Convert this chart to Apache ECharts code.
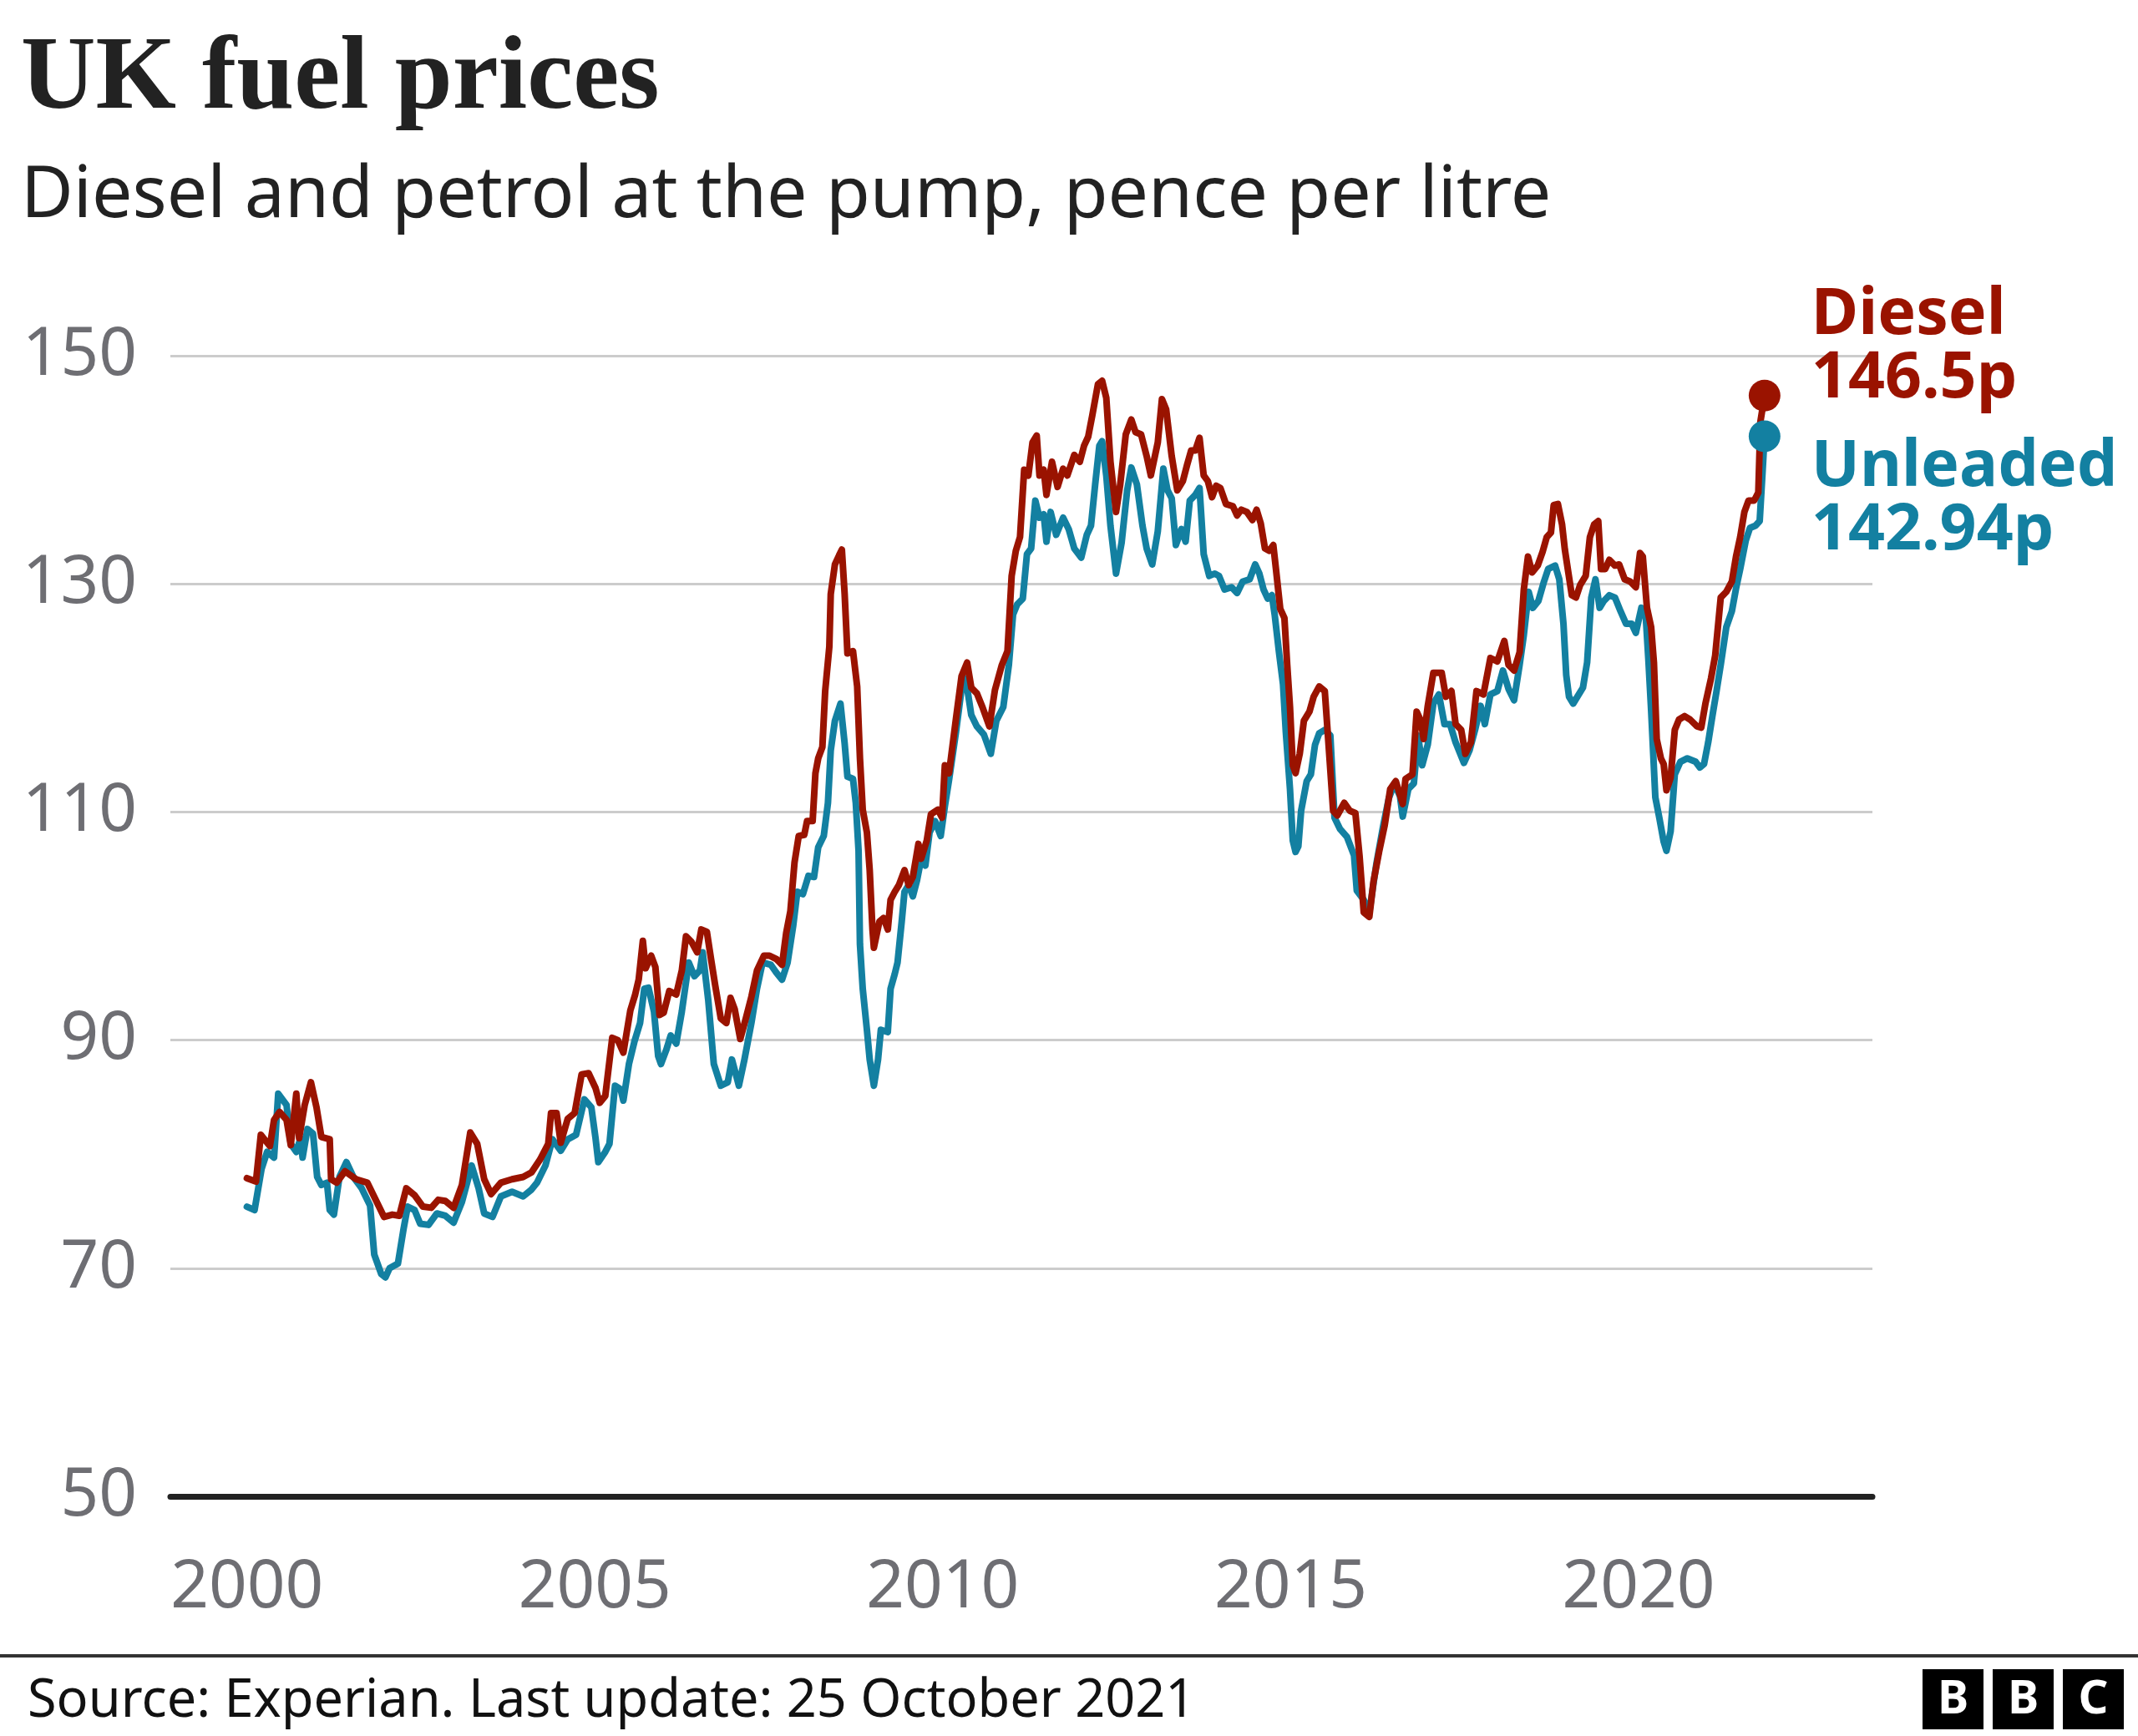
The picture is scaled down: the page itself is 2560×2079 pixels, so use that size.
<!DOCTYPE html>
<html>
<head>
<meta charset="utf-8">
<script src="https://cdn.jsdelivr.net/npm/echarts@6/dist/echarts.min.js"></script>
<style>
html,body{margin:0;padding:0;background:#fff;}
#chart{width:2560px;height:2079px;}
</style>
</head>
<body>
<div id="chart"></div>
<script>
// Decimal-year observation dates and prices (pence per litre)
const dieselDates = [2000.00,2000.13,2000.20,2000.33,2000.39,2000.47,2000.57,2000.63,2000.71,2000.75,2000.83,2000.92,2001.00,2001.07,2001.19,2001.21,2001.29,2001.41,2001.57,2001.73,2001.85,2001.97,2002.09,2002.19,2002.29,2002.41,2002.53,2002.65,2002.75,2002.85,2002.97,2003.09,2003.21,2003.31,2003.41,2003.51,2003.65,2003.81,2003.97,2004.09,2004.21,2004.33,2004.37,2004.45,2004.51,2004.61,2004.71,2004.81,2004.91,2005.01,2005.07,2005.15,2005.25,2005.33,2005.41,2005.51,2005.58,2005.63,2005.69,2005.73,2005.81,2005.87,2005.93,2005.99,2006.07,2006.17,2006.25,2006.31,2006.39,2006.47,2006.53,2006.61,2006.67,2006.73,2006.81,2006.89,2006.95,2007.01,2007.09,2007.17,2007.25,2007.33,2007.43,2007.51,2007.61,2007.69,2007.75,2007.81,2007.87,2007.93,2008.01,2008.05,2008.13,2008.17,2008.21,2008.27,2008.31,2008.37,2008.39,2008.45,2008.51,2008.55,2008.59,2008.63,2008.71,2008.77,2008.81,2008.85,2008.91,2008.95,2008.99,2009.01,2009.09,2009.15,2009.21,2009.25,2009.31,2009.37,2009.45,2009.51,2009.57,2009.65,2009.69,2009.77,2009.83,2009.93,2009.99,2010.03,2010.09,2010.19,2010.27,2010.35,2010.41,2010.49,2010.57,2010.67,2010.75,2010.85,2010.93,2010.99,2011.05,2011.11,2011.17,2011.23,2011.29,2011.35,2011.39,2011.45,2011.49,2011.57,2011.65,2011.73,2011.79,2011.89,2011.97,2012.03,2012.09,2012.15,2012.23,2012.29,2012.35,2012.41,2012.49,2012.55,2012.63,2012.71,2012.77,2012.85,2012.93,2012.99,2013.09,2013.15,2013.21,2013.29,2013.37,2013.45,2013.51,2013.57,2013.63,2013.69,2013.75,2013.81,2013.87,2013.93,2013.99,2014.07,2014.17,2014.23,2014.29,2014.37,2014.45,2014.51,2014.57,2014.63,2014.69,2014.75,2014.79,2014.85,2014.91,2014.95,2014.99,2015.03,2015.07,2015.13,2015.19,2015.27,2015.33,2015.41,2015.49,2015.55,2015.61,2015.67,2015.77,2015.85,2015.93,2015.99,2016.05,2016.13,2016.19,2016.27,2016.35,2016.43,2016.51,2016.61,2016.65,2016.75,2016.81,2016.87,2016.91,2016.97,2017.05,2017.17,2017.23,2017.31,2017.37,2017.45,2017.51,2017.59,2017.67,2017.77,2017.87,2017.97,2018.07,2018.13,2018.21,2018.29,2018.35,2018.41,2018.47,2018.55,2018.62,2018.68,2018.74,2018.78,2018.84,2018.90,2018.94,2018.99,2019.04,2019.10,2019.16,2019.24,2019.30,2019.36,2019.42,2019.46,2019.52,2019.58,2019.66,2019.72,2019.80,2019.88,2019.96,2020.02,2020.06,2020.12,2020.18,2020.22,2020.26,2020.32,2020.36,2020.40,2020.46,2020.52,2020.58,2020.66,2020.74,2020.84,2020.90,2020.96,2021.04,2021.10,2021.18,2021.26,2021.34,2021.40,2021.46,2021.52,2021.58,2021.66,2021.72,2021.75,2021.81];
const dieselValues = [77.9,77.6,81.7,80.7,83.0,83.7,83.0,80.8,85.3,81.4,84.3,86.3,84.1,81.5,81.3,77.8,77.5,78.5,77.8,77.5,76.0,74.5,74.7,74.6,77.0,76.4,75.4,75.3,76.0,75.9,75.3,77.3,81.9,80.9,77.8,76.5,77.5,77.8,78.0,78.4,79.5,80.9,83.6,83.6,81.0,83.1,83.6,87.0,87.1,85.8,84.5,85.1,90.2,90.0,88.9,92.6,94.0,95.3,98.7,96.3,97.4,96.4,92.2,92.4,94.3,94.0,96.1,99.1,98.6,97.7,99.7,99.5,97.1,94.8,91.9,91.5,93.7,92.7,90.1,91.9,93.8,96.1,97.4,97.4,97.1,96.6,99.4,101.3,105.6,107.9,108.0,109.2,109.2,113.4,114.7,115.7,120.6,124.5,129.1,131.7,132.5,133.0,129.1,123.9,124.1,121.0,114.7,110.2,108.2,104.9,99.7,98.1,100.4,100.7,99.7,102.3,103.0,103.6,104.9,103.6,104.3,107.2,105.9,107.5,109.8,110.2,109.5,114.1,113.4,118.2,121.9,123.1,120.9,120.4,119.2,117.5,120.7,122.9,124.1,130.7,132.9,134.1,140.0,139.5,142.4,143.0,139.5,140.0,137.8,140.7,138.5,140.1,139.5,141.3,140.7,142.1,142.9,144.8,147.5,147.8,146.3,140.7,136.3,138.7,143.1,144.4,143.3,143.1,141.2,139.5,142.4,146.2,145.3,141.2,138.2,139.0,140.4,141.7,141.7,142.8,139.5,139.0,137.6,138.6,138.4,137.0,136.8,136.0,136.5,136.3,135.6,136.5,135.3,133.1,132.9,133.4,131.2,127.8,127.0,122.9,119.2,114.1,113.4,115.1,118.0,118.8,120.1,121.0,120.6,115.4,110.1,109.7,110.8,110.1,109.9,106.1,101.2,100.8,103.9,106.5,108.8,112.0,112.7,110.7,112.9,113.3,118.8,118.0,116.4,119.3,122.2,122.2,120.1,120.6,117.7,117.2,115.1,116.1,120.6,120.3,123.5,123.2,125.0,122.9,122.4,124.0,129.5,132.4,131.0,131.6,132.8,134.1,134.5,136.9,137.0,135.2,133.0,131.0,129.0,128.8,129.9,130.7,134.1,135.2,135.5,131.3,131.3,132.1,131.6,131.7,130.4,130.2,129.7,132.7,132.4,127.9,126.2,123.1,116.4,114.7,114.2,111.9,113.0,117.2,118.1,118.4,118.1,117.5,117.4,119.5,121.7,123.7,128.8,129.3,130.2,132.4,134.1,136.3,137.3,137.3,138.0,144.2,146.5];

const unleadedDates = [2000.00,2000.11,2000.21,2000.29,2000.39,2000.45,2000.57,2000.63,2000.71,2000.77,2000.80,2000.87,2000.95,2001.01,2001.07,2001.15,2001.19,2001.25,2001.33,2001.43,2001.53,2001.65,2001.77,2001.83,2001.93,2001.99,2002.05,2002.17,2002.25,2002.31,2002.41,2002.49,2002.61,2002.73,2002.85,2002.97,2003.09,2003.23,2003.33,2003.41,2003.53,2003.65,2003.81,2003.97,2004.09,2004.17,2004.29,2004.39,2004.51,2004.61,2004.73,2004.85,2004.95,2005.01,2005.05,2005.15,2005.21,2005.29,2005.37,2005.41,2005.49,2005.57,2005.65,2005.71,2005.77,2005.85,2005.91,2005.95,2006.03,2006.09,2006.17,2006.25,2006.35,2006.43,2006.51,2006.55,2006.63,2006.71,2006.81,2006.91,2006.97,2007.07,2007.15,2007.25,2007.33,2007.41,2007.53,2007.61,2007.69,2007.77,2007.85,2007.91,2007.99,2008.07,2008.15,2008.21,2008.29,2008.35,2008.39,2008.45,2008.53,2008.59,2008.63,2008.71,2008.75,2008.79,2008.81,2008.85,2008.91,2008.95,2009.01,2009.07,2009.11,2009.21,2009.25,2009.31,2009.35,2009.41,2009.45,2009.51,2009.57,2009.63,2009.69,2009.75,2009.81,2009.89,2009.97,2010.03,2010.09,2010.19,2010.27,2010.33,2010.41,2010.49,2010.59,2010.69,2010.77,2010.87,2010.95,2011.01,2011.07,2011.15,2011.21,2011.27,2011.33,2011.39,2011.45,2011.49,2011.55,2011.63,2011.73,2011.81,2011.89,2011.99,2012.07,2012.13,2012.19,2012.25,2012.29,2012.35,2012.41,2012.49,2012.57,2012.65,2012.71,2012.79,2012.87,2012.93,2013.01,2013.09,2013.17,2013.23,2013.29,2013.35,2013.43,2013.49,2013.55,2013.63,2013.69,2013.75,2013.83,2013.91,2013.97,2014.05,2014.15,2014.23,2014.31,2014.41,2014.49,2014.55,2014.61,2014.67,2014.73,2014.77,2014.83,2014.89,2014.93,2014.99,2015.03,2015.07,2015.11,2015.15,2015.23,2015.29,2015.35,2015.41,2015.49,2015.57,2015.63,2015.71,2015.81,2015.91,2015.95,2016.05,2016.13,2016.23,2016.33,2016.41,2016.49,2016.57,2016.61,2016.69,2016.77,2016.83,2016.89,2016.97,2017.05,2017.13,2017.21,2017.29,2017.37,2017.49,2017.57,2017.65,2017.73,2017.79,2017.87,2017.97,2018.05,2018.13,2018.21,2018.29,2018.35,2018.42,2018.48,2018.56,2018.64,2018.70,2018.80,2018.86,2018.92,2018.96,2019.00,2019.06,2019.12,2019.20,2019.26,2019.32,2019.38,2019.44,2019.50,2019.58,2019.66,2019.74,2019.82,2019.90,2019.96,2020.04,2020.10,2020.14,2020.18,2020.24,2020.30,2020.36,2020.40,2020.46,2020.52,2020.60,2020.70,2020.82,2020.88,2020.94,2021.00,2021.06,2021.12,2021.18,2021.26,2021.34,2021.40,2021.46,2021.54,2021.60,2021.68,2021.74,2021.78,2021.81];
const unleadedValues = [75.4,75.1,78.7,80.2,79.7,85.3,84.3,80.9,80.2,81.4,79.7,82.2,81.8,78.0,77.3,77.5,75.1,74.7,78.0,79.3,78.0,77.0,75.5,71.2,69.5,69.2,70.0,70.4,73.4,75.4,75.1,73.9,73.8,74.8,74.6,74.0,75.8,79.0,77.0,74.8,74.5,76.3,76.7,76.3,76.9,77.5,79.0,81.3,80.3,81.3,81.7,84.8,84.1,81.4,79.3,80.2,80.9,86.0,85.7,84.7,87.9,89.9,91.5,94.5,94.6,92.5,88.6,87.9,89.2,90.4,89.7,92.5,96.8,95.6,96.1,97.7,93.5,87.9,86.0,86.3,88.3,86.0,88.3,91.5,94.5,96.8,96.6,95.9,95.3,96.8,100.0,103.0,102.8,104.4,104.3,106.9,107.9,110.8,115.4,118.0,119.5,116.0,113.1,112.9,110.8,106.6,98.4,94.5,90.9,88.3,86.0,88.3,90.9,90.7,94.5,95.8,96.8,100.4,103.0,103.6,102.6,104.0,105.9,105.3,108.2,109.2,107.9,110.5,112.8,117.0,120.8,121.7,118.5,117.5,116.8,115.1,118.0,119.2,122.9,127.3,128.2,128.7,132.6,133.1,137.3,135.8,136.1,133.7,136.3,134.3,135.8,134.8,133.1,132.3,134.3,135.1,138.7,142.1,142.5,139.5,135.1,130.9,133.6,138.2,140.2,138.7,135.1,133.1,131.7,134.6,140.1,138.2,137.5,133.4,134.8,133.7,137.3,137.8,138.4,132.6,130.7,130.9,130.7,129.5,129.7,129.2,130.2,130.4,131.7,130.9,129.5,128.7,129.0,127.3,124.1,121.2,117.0,112.0,107.5,106.5,107.0,110.1,112.7,113.3,115.9,116.9,117.2,116.7,109.5,108.5,107.8,106.2,103.1,102.3,101.2,105.4,108.8,111.2,112.5,111.4,109.6,112.0,112.5,116.7,114.1,115.9,119.5,120.3,117.7,117.7,116.1,114.3,115.4,117.2,119.3,117.7,120.3,120.6,122.4,120.8,119.8,122.9,125.5,129.3,127.9,128.5,130.2,131.3,131.6,130.4,126.5,122.0,120.1,119.5,120.1,120.9,123.1,128.8,130.4,127.9,128.5,129.0,128.8,127.6,126.5,126.5,125.7,127.9,127.4,123.4,118.9,111.3,109.4,107.4,106.6,108.3,113.3,114.4,114.7,114.4,113.9,114.2,116.1,118.4,120.6,122.9,126.2,127.6,129.6,131.3,133.8,134.9,135.1,135.5,139.7,142.94];

const yearTicks = [2000, 2005, 2010, 2015, 2020];
const seriesNames = ['Diesel', 'Unleaded'];

const RED = '#9a1300';
const BLUE = '#1380a1';

function pairs(dates, values) { return dates.map((d, i) => [d, values[i]]); }
const dieselData = pairs(dieselDates, dieselValues);
const unleadedData = pairs(unleadedDates, unleadedValues);

const chart = echarts.init(document.getElementById('chart'), null, {renderer: 'canvas'});

function endLabel(color, dy) {
  return {
    show: true,
    distance: 56,
    offset: [0, dy],
    formatter: p => '{n|' + p.seriesName + '}\n{n|' + p.value[1] + 'p}',
    rich: { n: { fontFamily: 'Noto Sans', fontWeight: 'bold', fontSize: 77, lineHeight: 76, color: color } }
  };
}

chart.setOption({
  animation: false,
  backgroundColor: '#ffffff',
  title: [
    { text: 'UK fuel prices', left: 20, top: 30,
      textStyle: { fontFamily: 'Liberation Serif', fontWeight: 'bold', fontSize: 124, color: '#222222' } },
    { text: 'Diesel and petrol at the pump, pence per litre', left: 20, top: 187,
      textStyle: { fontFamily: 'Noto Sans', fontWeight: 'normal', fontSize: 86, color: '#222222' } },
    { text: 'Source: Experian. Last update: 25 October 2021', left: 28, top: 2002,
      textStyle: { fontFamily: 'Noto Sans', fontWeight: 'normal', fontSize: 63, color: '#111111' } }
  ],
  grid: { left: 204, right: 318, top: 426, bottom: 287, containLabel: false, outerBoundsMode: 'none' },
  xAxis: {
    type: 'value', min: 1998.9, max: 2023.36,
    axisLine: { show: true, onZero: false, lineStyle: { color: '#222222', width: 7 } },
    axisTick: { show: false },
    splitLine: { show: false },
    axisLabel: {
      customValues: yearTicks,
      formatter: v => String(v),
      margin: 70,
      fontFamily: 'Noto Sans', fontSize: 80, color: '#6e6e73'
    }
  },
  yAxis: {
    type: 'value', min: 50, max: 150, interval: 20,
    axisLine: { show: false },
    axisTick: { show: false },
    splitLine: { show: true, lineStyle: { color: '#cccccc', width: 3 } },
    axisLabel: { margin: 40, fontFamily: 'Noto Sans', fontSize: 80, color: '#6e6e73' }
  },
  series: [
    { name: seriesNames[1], type: 'line', data: unleadedData, showSymbol: false, z: 2,
      lineStyle: { color: BLUE, width: 8, opacity: 1, join: 'round', cap: 'round' }, itemStyle: { color: BLUE },
      emphasis: { disabled: true },
      endLabel: endLabel(BLUE, 76) },
    { name: seriesNames[0], type: 'line', data: dieselData, showSymbol: false, z: 3,
      lineStyle: { color: RED, width: 8, opacity: 1, join: 'round', cap: 'round' }, itemStyle: { color: RED },
      emphasis: { disabled: true },
      endLabel: endLabel(RED, -58) },
    { name: seriesNames[1] + ' latest', type: 'scatter', z: 4, symbolSize: 38,
      data: [unleadedData[unleadedData.length - 1]], itemStyle: { color: BLUE, opacity: 1 } },
    { name: seriesNames[0] + ' latest', type: 'scatter', z: 5, symbolSize: 38,
      data: [dieselData[dieselData.length - 1]], itemStyle: { color: RED, opacity: 1 } }
  ],
  graphic: [
    { type: 'rect', shape: { x: 0, y: 1981, width: 2560, height: 4 }, style: { fill: '#333333' } },
    { type: 'group', left: 2302, top: 1999, children: [
      { type: 'rect', shape: { x: 0, y: 0, width: 73, height: 72 }, style: { fill: '#000' } },
      { type: 'text', x: 36.5, y: 37, style: { text: 'B', fill: '#fff', font: 'bold 56px "Noto Sans"', align: 'center', verticalAlign: 'middle' } },
      { type: 'rect', shape: { x: 84, y: 0, width: 73, height: 72 }, style: { fill: '#000' } },
      { type: 'text', x: 120.5, y: 37, style: { text: 'B', fill: '#fff', font: 'bold 56px "Noto Sans"', align: 'center', verticalAlign: 'middle' } },
      { type: 'rect', shape: { x: 168, y: 0, width: 73, height: 72 }, style: { fill: '#000' } },
      { type: 'text', x: 204.5, y: 37, style: { text: 'C', fill: '#fff', font: 'bold 56px "Noto Sans"', align: 'center', verticalAlign: 'middle' } }
    ] }
  ]
});
</script>
</body>
</html>
